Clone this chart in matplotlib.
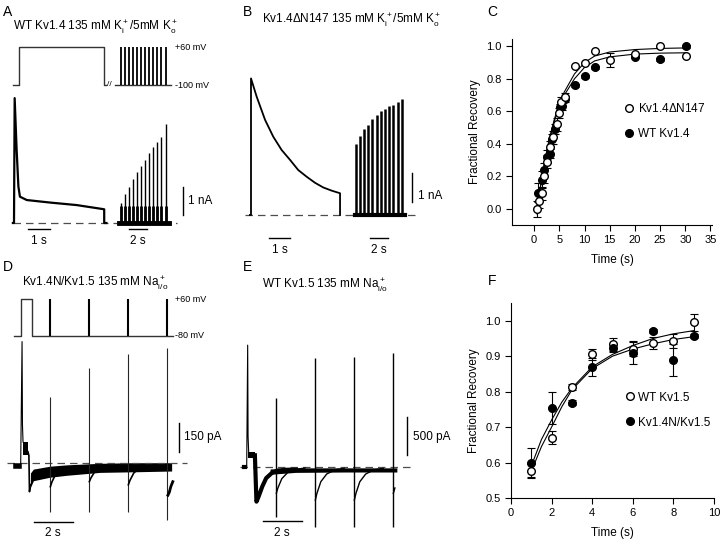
import numpy as np
import matplotlib
matplotlib.use('Agg')
import matplotlib.pyplot as plt
from matplotlib.lines import Line2D

plt.rcParams['font.family'] = ['Liberation Sans', 'DejaVu Sans']
plt.rcParams['mathtext.fontset'] = 'custom'
plt.rcParams['mathtext.rm'] = 'Liberation Sans'
plt.rcParams['mathtext.it'] = 'Liberation Sans:italic'

W, H = 720, 540

# ---------------- data ----------------
# A: WT Kv1.4, time (s), current (nA), voltage (mV)
a_step_t = [-0.05, 0.0, 0.03, 0.12, 0.2, 0.27, 0.58, 1.64, 2.85, 4.1, 4.1, 4.2]
a_step_i = [0, 0, 4.46, 2.61, 1.30, 0.94, 0.82, 0.73, 0.64, 0.49, 0, 0]
a_pulse_t = [0.22, 0.63, 1.08, 1.52, 1.97, 2.41, 2.86, 3.33, 3.78, 4.22, 4.70, 5.19]
a_pulse_i = [0.70, 1.04, 1.30, 1.56, 1.83, 2.04, 2.25, 2.51, 2.72, 2.90, 3.08, 3.52]
a_pulse_late = 0.6
a_prot_t = [-0.06, 0.23, 0.23, 4.08, 4.08, 4.2]
a_prot_v = [-100, -100, 60, 60, -100, -100]

# B: Kv1.4dN147
b_step_t = [-0.05, 0.0, 0.0, 0.27, 0.67, 1.06, 1.46, 1.86, 2.25, 2.65, 3.05, 3.44, 3.84, 4.24, 4.24]
b_step_i = [0, 0, 4.71, 4.08, 3.28, 2.70, 2.24, 1.90, 1.55, 1.32, 1.11, 0.95, 0.84, 0.75, 0]
b_pulse_t = [0.44, 0.89, 1.33, 1.81, 2.26, 2.74, 3.22, 3.67, 4.14, 4.59, 5.08, 5.52]
b_pulse_i = [2.45, 2.74, 2.98, 3.12, 3.30, 3.46, 3.58, 3.67, 3.75, 3.81, 3.91, 4.00]

# C: recovery, Kv1.4dN147 (open) and WT Kv1.4 (filled)
c_open_t = [0.5, 1, 1.6, 2, 2.6, 3.1, 3.7, 4.5, 5, 5.4, 6.1, 8.1, 10.1, 12.1, 15, 20, 25, 30.2]
c_open_y = [0.0, 0.047, 0.096, 0.2, 0.29, 0.38, 0.44, 0.52, 0.59, 0.66, 0.69, 0.88, 0.90, 0.97, 0.915, 0.955, 1.0, 0.94]
c_open_e = [0.05, 0.04, 0.04, 0.04, 0.04, 0.04, 0.04, 0.04, 0.03, 0.03, 0.02, 0, 0, 0, 0.045, 0, 0, 0]
c_fill_t = [0.8, 1.5, 2, 2.6, 3.1, 3.6, 4.1, 5.1, 5.6, 6.1, 8.1, 10.1, 12.1, 20, 25, 30.2]
c_fill_y = [0.10, 0.18, 0.24, 0.32, 0.34, 0.43, 0.49, 0.625, 0.63, 0.675, 0.76, 0.815, 0.87, 0.935, 0.92, 1.0]
c_fill_e = [0.06, 0.05, 0.04, 0.04, 0.03, 0.03, 0.03, 0.02, 0.02, 0.02, 0.01, 0.01, 0.01, 0.01, 0.01, 0.01]
c_fit_t = [0.5, 1, 2, 3, 4, 5, 6, 8, 10, 12, 15, 20, 25, 30]
c_fit_open = [-0.03, 0.09, 0.28, 0.43, 0.55, 0.65, 0.72, 0.83, 0.90, 0.94, 0.965, 0.98, 0.987, 0.99]
c_fit_fill = [-0.03, 0.09, 0.27, 0.42, 0.54, 0.63, 0.70, 0.80, 0.87, 0.91, 0.935, 0.952, 0.958, 0.96]

# D: Kv1.4N/Kv1.5, time (s), current (pA)
d_prot_t = [-0.34, 0.0, 0.0, 0.56, 0.56, 7.8]
d_prot_v = [-80, -80, 60, 60, -80, -80]
d_test_t = [1.5, 3.5, 5.5, 7.5]
d_spike_up = [344, 493, 565, 596]
d_spike_down = [-250, -250, -250, -293]
d_band_t = [0.5, 0.65, 1.5, 2.36, 4.07, 5.76, 7.74]
d_band_hi = [-50, -30, -15, -8, 0, 3, 3]
d_band_lo = [-125, -90, -72, -62, -47, -44, -40]
d_tail_depth = [-121, -95, -111]
d_end_t = [7.55, 7.62, 7.7, 7.8]
d_end_i = [-165, -150, -120, -95]

# E: WT Kv1.5, time (s), current (pA)
e_rec_t = [0.42, 0.5, 0.6, 0.8, 1.0, 1.3, 1.6, 2.1, 2.5]
e_rec_i = [150, -460, -400, -260, -150, -80, -50, -40, -40]
e_band_t = [1.2, 2.5, 5.0, 7.7]
e_band_hi = [-30, -15, -15, -15]
e_band_lo = [-100, -75, -70, -70]
e_test_t = [1.5, 3.5, 5.5, 7.5]
e_spike_up = [904, 1430, 1444, 1497]
e_spike_down = [-658, -790, -790, -790]
e_tail_depth = [-350, -440, -440, -350]
tail_dt = [0.02, 0.1, 0.3, 0.6, 1.0, 1.5]
tail_frac = [1.0, 0.8, 0.45, 0.22, 0.1, 0.05]

# F: recovery, WT Kv1.5 (open) and Kv1.4N/Kv1.5 (filled)
f_t = [1, 2, 3, 4, 5, 6, 7, 8, 9]
f_open_y = [0.577, 0.670, 0.813, 0.905, 0.933, 0.920, 0.937, 0.943, 0.995]
f_open_e = [0.02, 0.018, 0.008, 0.015, 0.017, 0.02, 0.017, 0.02, 0.025]
f_fill_y = [0.600, 0.755, 0.769, 0.870, 0.923, 0.910, 0.971, 0.889, 0.957]
f_fill_e = [0.042, 0.045, 0.008, 0.025, 0.01, 0.033, 0.005, 0.045, 0.005]
f_fit_t = [1, 1.5, 2, 2.5, 3, 4, 5, 6, 7, 8, 9]
f_fit_a = [0.59, 0.665, 0.72, 0.77, 0.81, 0.87, 0.905, 0.93, 0.95, 0.963, 0.972]
f_fit_b = [0.575, 0.645, 0.70, 0.757, 0.805, 0.865, 0.90, 0.92, 0.935, 0.947, 0.955]

# ---------------- figure ----------------
fig = plt.figure(figsize=(7.2, 5.4), dpi=100)


def pos(x, y):
    return x / W, 1 - y / H


def trace_axes(x0, y0, px_x, px_y):
    # axes over the whole figure; data origin at pixel (x0, y0)
    ax = fig.add_axes([0, 0, 1, 1])
    ax.set_xlim(-x0 / px_x, (W - x0) / px_x)
    ax.set_ylim(-(H - y0) / px_y, y0 / px_y)
    ax.axis('off')
    return ax


def ftext(x, y, s, size=8.5, **kw):
    fig.text(*pos(x, y), s, fontsize=size, **kw)


dash = dict(color='0.3', lw=0.9, dashes=(6, 4))

# ---- Panel A ----
pa_l = trace_axes(14, 85 - 100 * 0.2375, 22, 0.2375)
pa_l.plot(a_prot_t, a_prot_v, color='0.2', lw=1.0)
pa_l.text(4.22, -100, '//', fontsize=6, va='center', ha='left')
pa_r = trace_axes(119, 85 - 100 * 0.2375, 9, 0.2375)
pa_r.plot([-0.44, 5.8], [-100, -100], color='0.2', lw=1.0)
pa_r.vlines(a_pulse_t, -100, 60, color='black', lw=1.3)

ia_l = trace_axes(14, 223, 22, 28)
ia_l.plot([-0.05, 7.4], [0, 0], **dash)
ia_l.plot(a_step_t, a_step_i, color='black', lw=1.6)
ia_l.plot([0.64, 1.64], [-0.225, -0.225], color='black', lw=1)
ia_r = trace_axes(119, 223, 9, 28)
ia_r.vlines(a_pulse_t, 0, a_pulse_i, color='black', lw=1.0)
ia_r.vlines(a_pulse_t, 0, a_pulse_late, color='black', lw=2.0)
ia_r.plot([-0.05, 5.5], [0, 0], color='black', lw=3.5)
ia_r.plot([1.1, 3.1], [-0.225, -0.225], color='black', lw=1)
ia_r.plot([7.1, 7.1], [0.29, 1.29], color='black', lw=1)

ftext(8, 12, 'A', 10, ha='center', va='center')
ftext(13, 27, r'WT Kv1.4 135 mM K$^+_\mathrm{i}$/5mM K$^+_\mathrm{o}$', 8.5, va='center')
ftext(175, 47, '+60 mV', 6.5, va='center')
ftext(175, 85, '-100 mV', 6.5, va='center')
ftext(39, 241, '1 s', 8.5, ha='center', va='center')
ftext(138, 241, '2 s', 8.5, ha='center', va='center')
ftext(188, 201, '1 nA', 8.5, va='center')

# ---- Panel B ----
ib_l = trace_axes(251, 215, 21, 29)
ib_l.plot([-0.29, 7.9], [0, 0], **dash)
ib_l.plot(b_step_t, b_step_i, color='black', lw=1.3)
ib_l.plot([0.86, 1.86], [-0.8, -0.8], color='black', lw=1)
ib_r = trace_axes(352, 215, 9, 29)
ib_r.vlines(b_pulse_t, 0, b_pulse_i, color='black', lw=1.8)
ib_r.plot([0.3, 5.9], [0, 0], color='black', lw=3.0)
ib_r.plot([2.0, 4.0], [-0.8, -0.8], color='black', lw=1)
ib_r.plot([6.7, 6.7], [0.45, 1.45], color='black', lw=1)

ftext(247, 12, 'B', 10, ha='center', va='center')
ftext(262, 20, r'Kv1.4$\Delta$N147 135 mM K$^+_\mathrm{i}$/5mM K$^+_\mathrm{o}$', 8.5, va='center')
ftext(280, 250, '1 s', 8.5, ha='center', va='center')
ftext(379, 250, '2 s', 8.5, ha='center', va='center')
ftext(418, 196, '1 nA', 8.5, va='center')

# ---- Panel D ----
pd = trace_axes(20.7, 336 - 80 * 0.264, 19.5, 0.264)
pd.plot(d_prot_t, d_prot_v, color='0.2', lw=1.0)
pd.vlines(d_test_t, -80, 60, color='black', lw=1.5)

idd = trace_axes(20.7, 463.3, 19.5, 1 / 5.17)
idd.plot([-0.70, 8.53], [0, 0], **dash)
idd.plot([-0.26, -0.07], [-12, -12], color='black', lw=4)
idd.plot([0.0, 0.07, 0.09, 0.12], [0, 629, 200, 110], color='black', lw=0.8)
idd.fill_between([0.12, 0.37], [43, 43], [110, 110], color='black', lw=0)
idd.plot([0.37, 0.42, 0.45, 0.5], [60, 40, -147, -110], color='black', lw=1.2)
idd.fill_between(d_band_t, d_band_lo, d_band_hi, color='black', lw=0)
idd.vlines(d_test_t, d_spike_down, d_spike_up, color='0.15', lw=0.8)
for tp, dep in zip(d_test_t, d_tail_depth):
    idd.plot([tp + dt for dt in tail_dt[:4]], [dep * f for f in tail_frac[:4]],
             color='black', lw=1.2)
idd.plot(d_end_t, d_end_i, color='black', lw=2)
idd.plot([0.70, 2.70], [-302, -302], color='black', lw=1)
idd.plot([8.12, 8.12], [58, 208], color='black', lw=1)

ftext(8, 267, 'D', 10, ha='center', va='center')
ftext(22, 283, r'Kv1.4N/Kv1.5 135 mM Na$^+_\mathrm{i/o}$', 8.5, va='center')
ftext(175, 299, '+60 mV', 6.5, va='center')
ftext(175, 336, '-80 mV', 6.5, va='center')
ftext(53, 533, '2 s', 8.5, ha='center', va='center')
ftext(184, 437, '150 pA', 8.5, va='center')

# ---- Panel E ----
ie = trace_axes(246.7, 466.7, 19.5, 1 / 13.16)
ie.plot([-0.34, 8.63], [0, 0], **dash)
ie.plot([-0.16, -0.08], [0, 0], color='black', lw=3)
ie.plot([0.0, 0.05, 0.07, 0.1], [0, 1600, 400, 200], color='black', lw=0.8)
ie.fill_between([0.08, 0.42], [110, 110], [200, 200], color='black', lw=0)
ie.plot(e_rec_t, e_rec_i, color='black', lw=3)
ie.fill_between(e_band_t, e_band_lo, e_band_hi, color='black', lw=0)
ie.vlines(e_test_t, e_spike_down, e_spike_up, color='black', lw=1.0)
for k, (tp, dep) in enumerate(zip(e_test_t, e_tail_depth)):
    n = 2 if k == len(e_test_t) - 1 else len(tail_dt)
    ie.plot([tp + dt for dt in tail_dt[:n]], [dep * f for f in tail_frac[:n]],
            color='black', lw=1.0)
ie.plot([0.82, 2.82], [-715, -715], color='black', lw=1)
ie.plot([8.22, 8.22], [154, 654], color='black', lw=1)

ftext(248, 267, 'E', 10, ha='center', va='center')
ftext(262, 285, r'WT Kv1.5 135 mM Na$^+_\mathrm{i/o}$', 8.5, va='center')
ftext(282, 533, '2 s', 8.5, ha='center', va='center')
ftext(413, 437, '500 pA', 8.5, va='center')

# ---- Panel C ----
mk = dict(color='black', capsize=3, elinewidth=0.8, capthick=0.8, lw=0, markersize=5.5)
axc = fig.add_axes([512 / W, 1 - 225 / H, 200 / W, 186 / H])
axc.plot(c_fit_t, c_fit_open, color='black', lw=0.8)
axc.plot(c_fit_t, c_fit_fill, color='black', lw=0.8)
axc.errorbar(c_fill_t, c_fill_y, yerr=c_fill_e, fmt='o', mfc='black', mec='black', **mk)
axc.errorbar(c_open_t, c_open_y, yerr=c_open_e, fmt='o', mfc='white', mec='black', **mk)
axc.set_xlim(-4.4, 35.3)
axc.set_ylim(-0.1, 1.045)
axc.set_xticks(range(0, 36, 5))
axc.set_yticks(np.arange(0, 1.01, 0.2))
axc.yaxis.set_major_formatter('{x:.1f}')
axc.set_xlabel('Time (s)', fontsize=8.5, labelpad=6)
axc.set_ylabel('Fractional Recovery', fontsize=8.5, labelpad=4)
h_c = [Line2D([], [], marker='o', ls='', mfc='white', mec='black', color='black', ms=5.5),
       Line2D([], [], marker='o', ls='', mfc='black', mec='black', color='black', ms=5.5)]
axc.legend(h_c, [r'Kv1.4$\Delta$N147', 'WT Kv1.4'], loc='upper left',
           bbox_to_anchor=(0.51, 0.72), frameon=False, fontsize=8.5,
           handlelength=0.8, handletextpad=0.3, labelspacing=1.1)
ftext(492, 12, 'C', 10, ha='center', va='center')

# ---- Panel F ----
axf = fig.add_axes([511 / W, 1 - 498 / H, 203 / W, 195 / H])
axf.plot(f_fit_t, f_fit_a, color='black', lw=0.8)
axf.plot(f_fit_t, f_fit_b, color='black', lw=0.8)
axf.errorbar(f_t, f_open_y, yerr=f_open_e, fmt='o', mfc='white', mec='black', **mk)
axf.errorbar(f_t, f_fill_y, yerr=f_fill_e, fmt='o', mfc='black', mec='black', **mk)
axf.set_xlim(0, 10)
axf.set_ylim(0.5, 1.05)
axf.set_xticks(range(0, 11, 2))
axf.set_yticks(np.arange(0.5, 1.01, 0.1))
axf.yaxis.set_major_formatter('{x:.1f}')
axf.set_xlabel('Time (s)', fontsize=8.5, labelpad=6)
axf.set_ylabel('Fractional Recovery', fontsize=8.5, labelpad=4)
axf.legend(h_c, ['WT Kv1.5', 'Kv1.4N/Kv1.5'], loc='upper left',
           bbox_to_anchor=(0.51, 0.60), frameon=False, fontsize=8.5,
           handlelength=0.8, handletextpad=0.3, labelspacing=1.1)
ftext(492, 281, 'F', 10, ha='center', va='center')

for ax in (axc, axf):
    ax.spines['top'].set_visible(False)
    ax.spines['right'].set_visible(False)
    ax.tick_params(direction='out', length=4, width=0.8, labelsize=8)
    for s in ax.spines.values():
        s.set_linewidth(0.8)

fig.savefig('out.png', dpi=100)
